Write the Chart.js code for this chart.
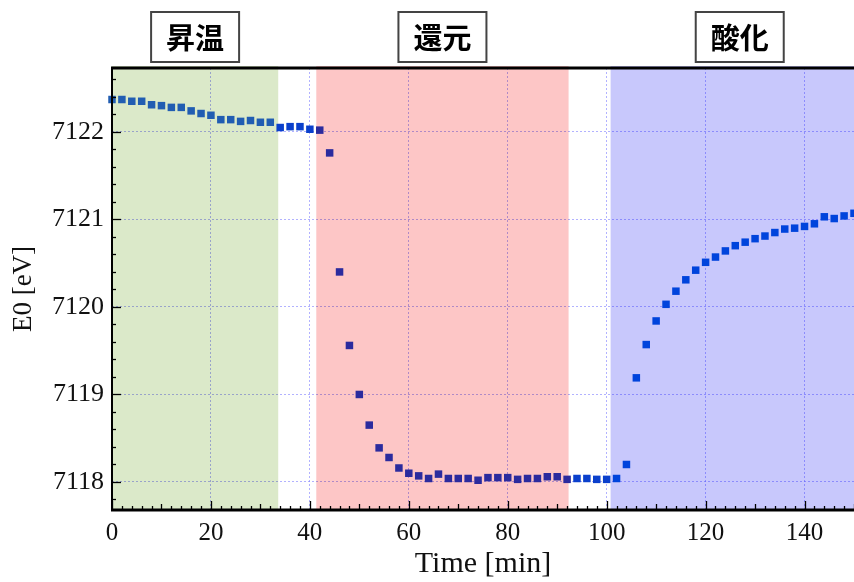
<!DOCTYPE html>
<html>
<head>
<meta charset="utf-8">
<script src="https://cdn.jsdelivr.net/npm/chart.js@4"></script>
<style>
  html, body { margin: 0; padding: 0; background: #fff; }
  #wrap { width: 854px; height: 582px; position: relative; }
</style>
</head>
<body>
<div id="wrap"><canvas id="c" width="854" height="582"></canvas></div>
<script>
// ---- data ----
const timeMin = [0,2,4,6,8,10,12,14,16,18,20,22,24,26,28,30,32,34,36,38,40,42,44,46,48,50,52,54,56,58,60,62,64,66,68,70,72,74,76,78,80,82,84,86,88,90,92,94,96,98,100,102,104,106,108,110,112,114,116,118,120,122,124,126,128,130,132,134,136,138,140,142,144,146,148,150];
const e0eV = [7122.37,7122.37,7122.35,7122.35,7122.31,7122.30,7122.28,7122.28,7122.24,7122.21,7122.19,7122.14,7122.14,7122.12,7122.13,7122.11,7122.11,7122.05,7122.06,7122.06,7122.03,7122.02,7121.76,7120.40,7119.56,7119.00,7118.65,7118.39,7118.28,7118.16,7118.10,7118.07,7118.04,7118.09,7118.04,7118.04,7118.04,7118.02,7118.05,7118.05,7118.05,7118.03,7118.04,7118.04,7118.06,7118.06,7118.03,7118.04,7118.04,7118.03,7118.03,7118.04,7118.20,7119.19,7119.57,7119.84,7120.03,7120.18,7120.31,7120.42,7120.51,7120.57,7120.64,7120.70,7120.74,7120.78,7120.81,7120.85,7120.89,7120.90,7120.92,7120.95,7121.03,7121.01,7121.04,7121.07];
const phaseNames = ['昇温', '還元', '酸化'];
const phaseStart = [0, 41.3, 100.8];
const phaseEnd = [33.6, 92.3, 153];
const xTickValues = [0, 20, 40, 60, 80, 100, 120, 140];
const yTickValues = [7118, 7119, 7120, 7121, 7122];

// ---- styles ----
const phaseFill = ['#dbe9c9', '#fdc6c6', '#c8c8fc'];
const markerColor = ['#215db2', '#2b2b9e', '#0044dc'];
const gapMarker = '#0b40cc';
const gridColor = 'rgba(130,130,255,0.62)';

function phaseOf(t) {
  for (let i = 0; i < phaseStart.length; i++) {
    if (t >= phaseStart[i] && t <= phaseEnd[i]) return i;
  }
  return -1;
}

const points = timeMin.map((t, i) => ({ x: t, y: e0eV[i] }));

const decorPlugin = {
  id: 'decor',
  beforeDraw(chart) {
    const ctx = chart.ctx;
    ctx.save();
    ctx.fillStyle = '#fff';
    ctx.fillRect(0, 0, chart.width, chart.height);
    ctx.restore();
  },
  beforeDatasetsDraw(chart) {
    const { ctx, chartArea: ca, scales: { x } } = chart;
    ctx.save();
    ctx.beginPath();
    ctx.rect(ca.left, ca.top - 2, chart.width - ca.left, ca.bottom - ca.top + 2);
    ctx.clip();
    ctx.globalCompositeOperation = 'multiply';
    phaseNames.forEach((n, i) => {
      const x1 = x.getPixelForValue(phaseStart[i]);
      const x2 = x.getPixelForValue(phaseEnd[i]);
      ctx.fillStyle = phaseFill[i];
      ctx.fillRect(x1, ca.top - 2, x2 - x1, ca.bottom - ca.top + 2);
    });
    ctx.restore();
  },
  afterDraw(chart) {
    const { ctx, chartArea: ca, scales: { x, y } } = chart;
    ctx.save();
    ctx.strokeStyle = '#000';
    // inward ticks on x
    ctx.lineWidth = 1.3;
    for (let t = 0; t <= 150; t += 2) {
      const px = Math.round(x.getPixelForValue(t)) + 0.5;
      const len = (t % 20 === 0) ? 9 : (t % 10 === 0 ? 6 : 4);
      ctx.beginPath();
      ctx.moveTo(px, ca.bottom);
      ctx.lineTo(px, ca.bottom - len);
      ctx.stroke();
    }
    // inward ticks on y
    for (let k = Math.ceil(y.min * 5); k <= Math.floor(y.max * 5); k++) {
      const v = k / 5;
      const py = Math.round(y.getPixelForValue(v)) + 0.5;
      const len = (k % 5 === 0) ? 9 : 4;
      ctx.beginPath();
      ctx.moveTo(ca.left, py);
      ctx.lineTo(ca.left + len, py);
      ctx.stroke();
    }
    // axis lines
    ctx.lineWidth = 2;
    ctx.beginPath();
    ctx.moveTo(ca.left, ca.top);
    ctx.lineTo(ca.left, ca.bottom);
    ctx.stroke();
    ctx.lineWidth = 3;
    ctx.beginPath();
    ctx.moveTo(ca.left - 1, ca.bottom);
    ctx.lineTo(chart.width, ca.bottom);
    ctx.stroke();
    ctx.beginPath();
    ctx.moveTo(ca.left - 1, ca.top);
    ctx.lineTo(chart.width, ca.top);
    ctx.stroke();
    // phase label boxes
    ctx.font = 'bold 29px "Noto Sans CJK JP"';
    ctx.textAlign = 'center';
    ctx.textBaseline = 'middle';
    phaseNames.forEach((n, i) => {
      const cx = x.getPixelForValue((phaseStart[i] + phaseEnd[i]) / 2);
      const w = 88, h = 50, top = 12;
      ctx.fillStyle = '#fff';
      ctx.fillRect(cx - w / 2, top, w, h);
      ctx.lineWidth = 2;
      ctx.strokeStyle = '#444';
      ctx.strokeRect(cx - w / 2, top, w, h);
      ctx.fillStyle = '#000';
      ctx.fillText(n, cx, top + h / 2 + 1);
    });
    ctx.restore();
  }
};

new Chart(document.getElementById('c'), {
  type: 'scatter',
  data: {
    datasets: [{
      label: 'E0',
      data: points,
      pointStyle: 'rect',
      pointRadius: 5.3,
      pointHoverRadius: 5.3,
      borderWidth: 0,
      clip: false,
      backgroundColor: (c) => {
        const p = c.raw ? phaseOf(c.raw.x) : -1;
        return p >= 0 ? markerColor[p] : gapMarker;
      },
      showLine: false
    }]
  },
  options: {
    responsive: false,
    animation: false,
    events: [],
    layout: { autoPadding: false, padding: { top: 68, right: 0, left: 0, bottom: 0 } },
    plugins: { legend: { display: false }, tooltip: { enabled: false } },
    scales: {
      x: {
        type: 'linear',
        min: 0, max: 150,
        afterBuildTicks: (s) => { s.ticks = xTickValues.map(v => ({ value: v })); },
        afterFit: (s) => { s.height = 72; },
        grid: { color: gridColor, lineWidth: 1, drawTicks: false },
        border: { display: false, dash: [2, 2] },
        ticks: {
          padding: 8,
          maxRotation: 0,
          autoSkip: false,
          color: '#111',
          font: { family: '"Liberation Serif", "Times New Roman", serif', size: 25 }
        },
        title: {
          display: true,
          text: 'Time [min]',
          color: '#111',
          padding: { top: 0, bottom: 0 },
          font: { family: '"Liberation Serif", "Times New Roman", serif', size: 30 }
        }
      },
      y: {
        type: 'linear',
        min: 7117.68, max: 7122.73,
        afterBuildTicks: (s) => { s.ticks = yTickValues.map(v => ({ value: v })); },
        afterFit: (s) => { s.width = 112; },
        grid: { color: gridColor, lineWidth: 1, drawTicks: false },
        border: { display: false, dash: [2, 2] },
        ticks: {
          padding: 8,
          autoSkip: false,
          color: '#111',
          callback: (v) => String(v),
          font: { family: '"Liberation Serif", "Times New Roman", serif', size: 26 }
        },
        title: {
          display: true,
          text: 'E0 [eV]',
          color: '#111',
          padding: { top: 8, bottom: 0 },
          font: { family: '"Liberation Serif", "Times New Roman", serif', size: 27 }
        }
      }
    }
  },
  plugins: [decorPlugin]
});
</script>
</body>
</html>
